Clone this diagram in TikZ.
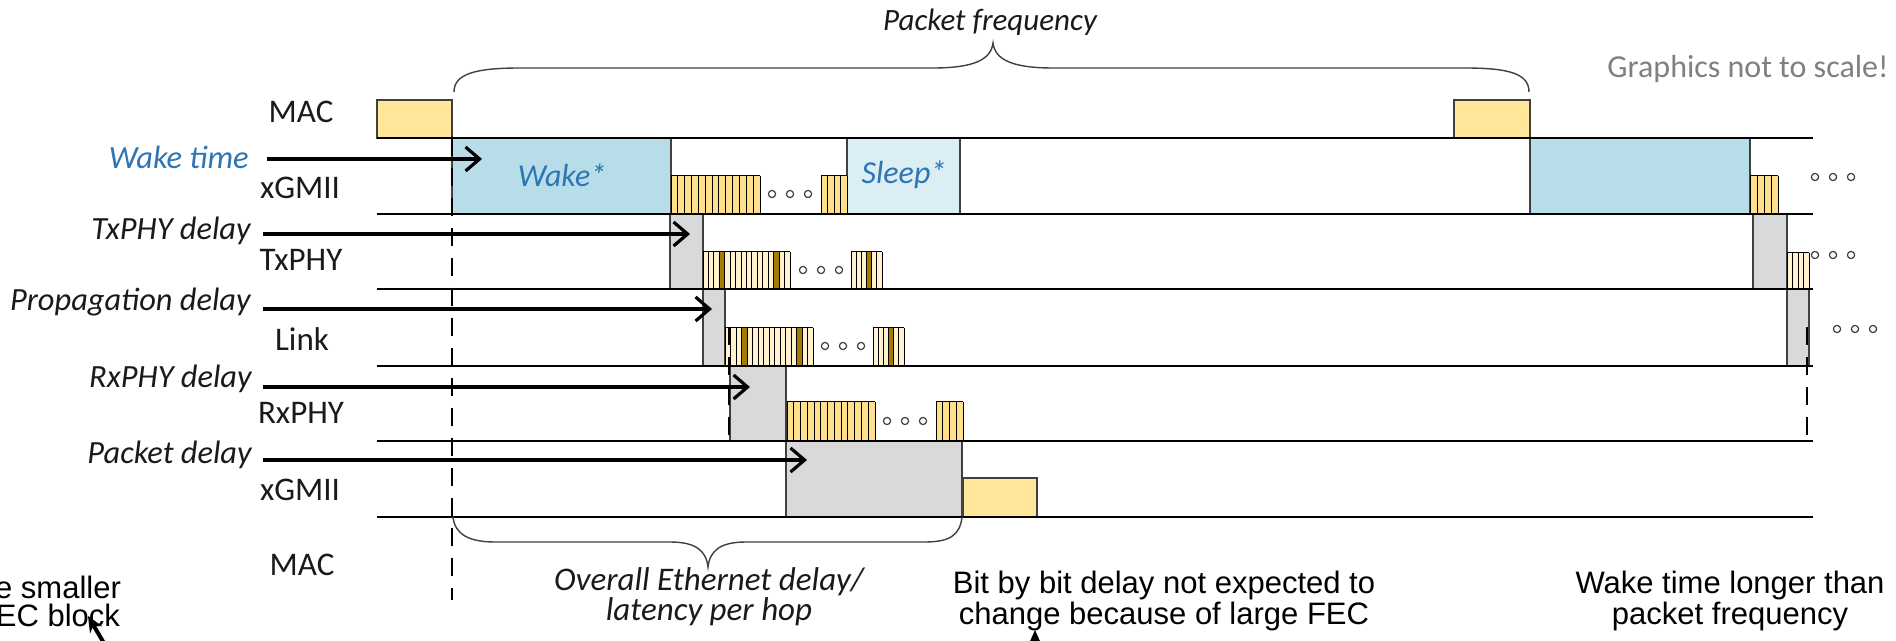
\documentclass[tikz,border=0pt]{standalone}
\usepackage{fontspec}
\setmainfont{Carlito}
\newfontfamily\arialf{Liberation Sans}
\usetikzlibrary{arrows.meta}

\definecolor{macfill}{HTML}{FFE699}
\definecolor{wakefill}{HTML}{B7DEE8}
\definecolor{sleepfill}{HTML}{DAEEF3}
\definecolor{delayfill}{HTML}{D9D9D9}
\definecolor{bitfill}{HTML}{FFE08A}
\definecolor{codefill}{HTML}{FFF2CC}
\definecolor{darkbit}{HTML}{A67C00}
\definecolor{labelblue}{HTML}{2E75B6}
\definecolor{notegray}{HTML}{808080}
\definecolor{edgegray}{HTML}{404040}
\definecolor{labelblack}{HTML}{1A1A1A}

% a run of bits: x0, x1, top, bottom, number of cells, fill colour
\newcommand{\bitrun}[6]{%
  \fill[#6] (#1,#3) rectangle (#2,#4);
  \foreach \bk in {0,...,#5}{\draw[bitline] ({#1+(#2-#1)*\bk/#5},#3) -- ({#1+(#2-#1)*\bk/#5},#4);}
  \draw[bitline] (#1,#3) -- (#2,#3);
}
% darken cell i of a run: x0, x1, top, bottom, number of cells, i
\newcommand{\bitcell}[6]{%
  \filldraw[fill=darkbit, bitline] ({#1+(#2-#1)*#6/#5},#3) rectangle ({#1+(#2-#1)*(#6+1)/#5},#4);
}
% three small circles: x of the first, y
\newcommand{\threedots}[2]{%
  \foreach \dx in {0,18,36}{\draw[dotc] ({#1+\dx},#2) circle[radius=1.8pt];}
}

\begin{document}
\begin{tikzpicture}[x=0.5pt,y=-0.5pt,
  rowline/.style={black, line width=1.2pt},
  boxedge/.style={draw=edgegray, line width=0.6pt},
  macbox/.style={boxedge, fill=macfill},
  wakebox/.style={boxedge, fill=wakefill},
  sleepbox/.style={boxedge, fill=sleepfill},
  delaybox/.style={boxedge, fill=delayfill},
  bitline/.style={draw=black, line width=0.5pt},
  hop/.style={black, line width=1.6pt, -{Straight Barb[length=7pt,width=12pt,line width=1.6pt]}},
  marker/.style={black, line width=1pt, dash pattern=on 9pt off 6pt},
  lbl/.style={font=\fontsize{16.5}{18}\selectfont, text=labelblack, inner sep=0pt},
  delaylbl/.style={font=\fontsize{16.2}{18}\selectfont\itshape, text=labelblack, inner sep=0pt, anchor=east},
  periodlbl/.style={font=\fontsize{16}{18}\selectfont\itshape, text=labelblue, inner sep=0pt},
  bracepath/.style={draw=edgegray, line width=0.7pt},
  note/.style={font=\arialf\fontsize{15.5}{14}\selectfont, align=center, inner sep=0pt},
  dotc/.style={draw=edgegray, line width=0.6pt, fill=white}
]
\fill[white] (0,0) rectangle (1896,641);
\useasboundingbox (0,0) rectangle (1896,641);

% ---- frames, wake/sleep periods and delays
\draw[macbox] (377,100) rectangle (452,138);
\draw[macbox] (1454,100) rectangle (1530,138);
\draw[wakebox] (452,138) rectangle (671,214);
\draw[sleepbox] (847,138) rectangle (960,214);
\draw[wakebox] (1530,138) rectangle (1750,214);
\draw[delaybox] (670,214) rectangle (703,289);
\draw[delaybox] (703,289) rectangle (725,366);
\draw[delaybox] (730,366) rectangle (786,441);
\draw[delaybox] (786,441) rectangle (962,517);
\draw[macbox] (963,478) rectangle (1037,517);
\draw[delaybox] (1753,214) rectangle (1787,289);
\draw[delaybox] (1787,289) rectangle (1809,366);

% ---- bit streams
% xGMII (transmit side)
\bitrun{671}{760}{176}{214}{13}{bitfill}
\threedots{772}{194}
\bitrun{821}{847}{176}{214}{4}{bitfill}
\bitrun{1750}{1778}{176}{214}{4}{bitfill}
\threedots{1815}{177}
% TxPHY
\bitrun{703}{790}{252}{289}{16}{codefill}
\bitcell{703}{790}{252}{289}{16}{3}
\bitcell{703}{790}{252}{289}{16}{13}
\threedots{803}{270}
\bitrun{851}{882}{252}{289}{6}{codefill}
\bitcell{851}{882}{252}{289}{6}{3}
\bitrun{1787}{1809}{253}{289}{4}{codefill}
\threedots{1815}{255}
% Link
\bitrun{725}{813}{328}{366}{16}{codefill}
\bitcell{725}{813}{328}{366}{16}{3}
\bitcell{725}{813}{328}{366}{16}{13}
\threedots{825}{346}
\bitrun{873}{904}{328}{366}{6}{codefill}
\bitcell{873}{904}{328}{366}{6}{3}
\threedots{1837}{329}
% RxPHY
\bitrun{787}{875}{402}{441}{13}{bitfill}
\threedots{887}{421}
\bitrun{936}{963}{402}{441}{4}{bitfill}

% ---- layer boundaries
\foreach \ry in {138,214,289,366,441,517}{\draw[rowline] (377,\ry) -- (1813,\ry);}

% ---- time markers
\draw[marker] (452,138) -- (452,600);
\draw[marker] (729,327) -- (729,441);
\draw[marker] (1807,327) -- (1807,441);

% ---- layer names
\node[lbl] (mac-top) at (301,112) {MAC};
\node[lbl] (xgmii-tx) at (300,188) {xGMII};
\node[lbl] (txphy) at (301,260) {TxPHY};
\node[lbl] (link) at (302,339) {Link};
\node[lbl] (rxphy) at (301,413) {RxPHY};
\node[lbl] (xgmii-rx) at (300,490) {xGMII};
\node[lbl] (mac-bot) at (302,565) {MAC};

% ---- delay names and their arrows
\node[delaylbl, text=labelblue] (wake-lbl) at (249,157) {Wake time};
\node[delaylbl] (txd-lbl) at (251,231) {TxPHY delay};
\node[delaylbl] (prd-lbl) at (251,302) {Propagation delay};
\node[delaylbl] (rxd-lbl) at (252,379) {RxPHY delay};
\node[delaylbl] (pkd-lbl) at (252,455) {Packet delay};

\coordinate (wake-s) at (267,159);  \coordinate (wake-e) at (482,159);
\coordinate (txd-s) at (263,234);   \coordinate (txd-e) at (690,234);
\coordinate (prd-s) at (263,309);   \coordinate (prd-e) at (712,309);
\coordinate (rxd-s) at (263,387);   \coordinate (rxd-e) at (750,387);
\coordinate (pkd-s) at (263,460);   \coordinate (pkd-e) at (807,460);
\draw[hop] (wake-s) -- (wake-e);
\draw[hop] (txd-s) -- (txd-e);
\draw[hop] (prd-s) -- (prd-e);
\draw[hop] (rxd-s) -- (rxd-e);
\draw[hop] (pkd-s) -- (pkd-e);

% ---- period names
\node[periodlbl] (wake-in) at (562,175) {Wake*};
\node[periodlbl] (sleep-in) at (904,175) {Sleep*};

% ---- braces
\coordinate (pf-l) at (454,92); \coordinate (pf-tip) at (993,43); \coordinate (pf-r) at (1529,92);
\draw[bracepath] (pf-l) .. controls (454,74) and (475,68) .. (520,68) -- (933,68)
  .. controls (973,68) and (991,60) .. (pf-tip)
  .. controls (995,60) and (1013,68) .. (1053,68) -- (1465,68)
  .. controls (1510,68) and (1529,74) .. (pf-r);
\node[font=\fontsize{15.5}{18}\selectfont\itshape, text=labelblack, inner sep=0pt] (pf-lbl) at (990,22) {Packet frequency};

\coordinate (oe-l) at (453,517); \coordinate (oe-tip) at (708,567); \coordinate (oe-r) at (962,517);
\draw[bracepath] (oe-l) .. controls (455,535) and (470,542) .. (495,542) -- (670,542)
  .. controls (695,542) and (706,550) .. (oe-tip)
  .. controls (710,550) and (721,542) .. (746,542) -- (925,542)
  .. controls (950,542) and (960,535) .. (oe-r);
\node[font=\fontsize{16.5}{14}\selectfont\itshape, text=labelblack, align=center, inner sep=0pt] (oe-lbl) at (709,597) {Overall Ethernet delay/\\latency per hop};

\node[font=\fontsize{16}{18}\selectfont, text=notegray, inner sep=0pt] (scale-note) at (1748,69) {Graphics not to scale!};

% ---- notes along the bottom
\node[note] (note-l) at (58,601) {e smaller\\EC block};
\node[note] (note-m) at (1164,601) {Bit by bit delay not expected to\\change because of large FEC};
\node[note] (note-r) at (1730,601) {Wake time longer than\\packet frequency};
\coordinate (nl-s) at (108,650); \coordinate (nl-e) at (88,616);
\coordinate (nm-s) at (1035,670); \coordinate (nm-e) at (1035,630);
\draw[line width=2pt, -{Stealth[length=8pt,width=7pt]}] (nl-s) -- (nl-e);
\draw[line width=2pt, -{Stealth[length=8pt,width=7pt]}] (nm-s) -- (nm-e);
\end{tikzpicture}
\end{document}
